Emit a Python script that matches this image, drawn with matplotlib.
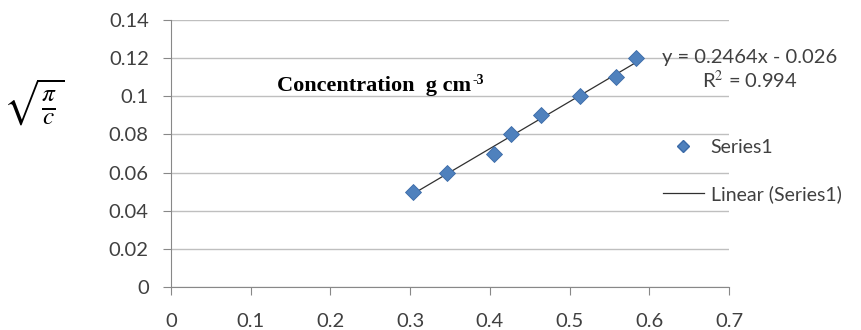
import matplotlib
matplotlib.use('Agg')
import matplotlib.pyplot as plt
from matplotlib.lines import Line2D
import numpy as np

# data
conc = [0.303, 0.346, 0.405, 0.427, 0.464, 0.513, 0.558, 0.583]
root_pi_c = [0.050, 0.060, 0.070, 0.080, 0.090, 0.100, 0.110, 0.120]
slope = 0.2464
intercept = -0.026
r2 = 0.994
xticks = [0, 0.1, 0.2, 0.3, 0.4, 0.5, 0.6, 0.7]
yticks = [0, 0.02, 0.04, 0.06, 0.08, 0.1, 0.12, 0.14]

plt.rcParams['font.family'] = ['Lato', 'DejaVu Sans']
plt.rcParams['mathtext.fontset'] = 'stix'

fig = plt.figure(figsize=(8.61, 3.30), dpi=100)
ax = fig.add_axes([171/861, 1 - 287/330, (729 - 171)/861, (287 - 20)/330])

blue = '#4F81BD'
txt = '#404040'
grid = '#BFBFBF'

# trend line + points
xs = np.array([min(conc), max(conc)])
ax.plot(xs, slope * xs + intercept, color='#303030', lw=0.9, zorder=3)
ax.plot(conc, root_pi_c, linestyle='none', marker='D', markersize=8,
        color=blue, markeredgecolor='#3A6AA8', markeredgewidth=0.6, zorder=4)

ax.set_xlim(0, 0.7)
ax.set_ylim(0, 0.14)
ax.set_xticks(xticks)
ax.set_yticks(yticks)
ax.set_xticklabels(['0', '0.1', '0.2', '0.3', '0.4', '0.5', '0.6', '0.7'])
ax.set_yticklabels(['0', '0.02', '0.04', '0.06', '0.08', '0.1', '0.12', '0.14'])
ax.tick_params(axis='both', labelsize=14.5, labelcolor=txt, color='#888888',
               length=6, width=0.8)
ax.tick_params(axis='y', pad=10)
ax.tick_params(axis='x', pad=13)

ax.yaxis.grid(True, color=grid, lw=1.0)
ax.set_axisbelow(True)
for s in ['top', 'right']:
    ax.spines[s].set_visible(False)
for s in ['left', 'bottom']:
    ax.spines[s].set_color('#888888')
    ax.spines[s].set_linewidth(0.8)

# text inside the plot
t = ax.text(0.133, 0.1055, 'Concentration  g cm', fontsize=16,
            fontweight='bold', family='Liberation Serif', va='center',
            ha='left', color='black')
ax.annotate('-3', xy=(1, 1), xycoords=t, xytext=(1, 1),
            textcoords='offset points', fontsize=10, fontweight='bold',
            family='Liberation Serif', va='top', ha='left', color='black')
fig.text(750/861, 1 - 58/330, 'y = %.4fx - %.3f' % (slope, -intercept),
         fontsize=14.5, color=txt, ha='center', va='center')
fig.text(750/861, 1 - 80/330, 'R$^2$ = %.3f' % r2,
         fontsize=14.5, color=txt, ha='center', va='center')

# y label
fig.text(34/861, 1 - 102/330, r'$\sqrt{\frac{\pi}{c}}$', fontsize=26,
         ha='center', va='center', color='black')

# legend outside on the right
handles = [Line2D([], [], linestyle='none', marker='D', markersize=6,
                  color=blue, markeredgecolor='#3A6AA8'),
           Line2D([], [], color='#303030', lw=0.9)]
fig.legend(handles, ['Series1', 'Linear (Series1)'], loc='center left',
           bbox_to_anchor=(663/861, 1 - 171/330), frameon=False,
           fontsize=14, labelcolor=txt, handlelength=2.1, handletextpad=0.35,
           labelspacing=1.5, borderpad=0, borderaxespad=0)

fig.savefig('out.png', dpi=100)
